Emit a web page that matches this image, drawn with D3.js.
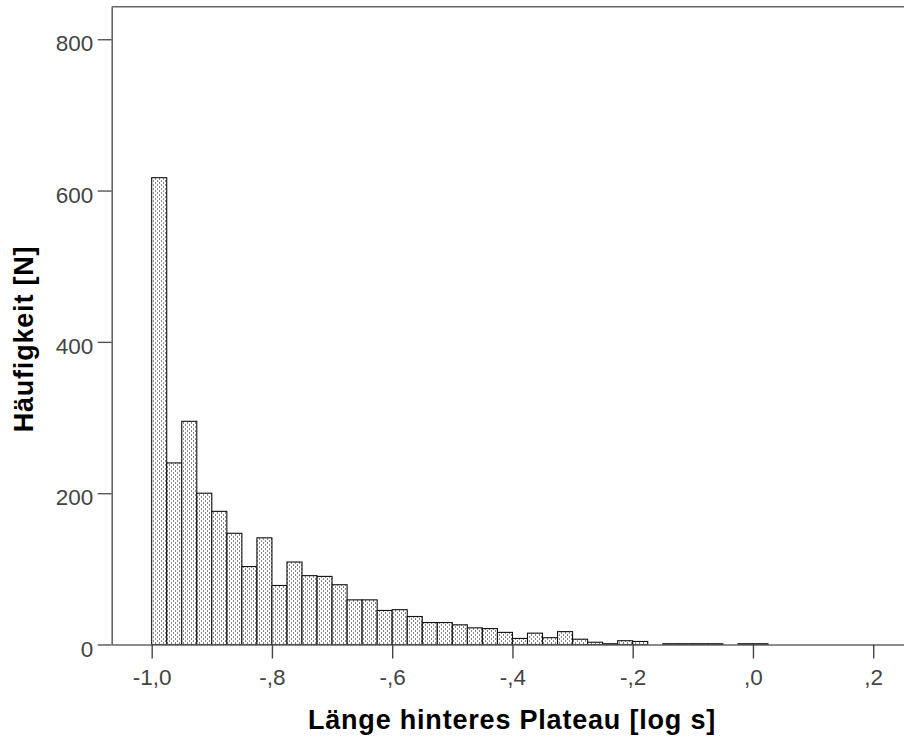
<!DOCTYPE html>
<html>
<head>
<meta charset="utf-8">
<script src="https://cdn.jsdelivr.net/npm/d3@7/dist/d3.min.js"></script>
<style>
  html, body { margin: 0; padding: 0; background: #fff; }
  svg { display: block; }
</style>
</head>
<body>
<svg id="chart" width="904" height="737"></svg>
<script>
// ---- data ----
const binStart = -1.0;
const binWidth = 0.025;
const counts = [617, 240, 295, 200, 176, 147, 103, 141, 78, 109,
                91, 90, 79, 59, 59, 45, 46, 37, 29, 29,
                26, 22, 21, 16, 8, 15, 9, 17, 7, 3,
                1, 5, 4, 0, 1, 1, 1, 1, 0, 1, 1];
const xTickValues = [-1.0, -0.8, -0.6, -0.4, -0.2, 0.0, 0.2];
const xTickLabels = ["-1,0", "-,8", "-,6", "-,4", "-,2", ",0", ",2"];
const yTickValues = [0, 200, 400, 600, 800];
const yTickLabels = ["0", "200", "400", "600", "800"];
const xTitle = "Länge hinteres Plateau [log s]";
const yTitle = "Häufigkeit [N]";

// ---- layout ----
const svg = d3.select("#chart");
const pLeft = 111.7, pRight = 912, pTop = 6.7, pBottom = 644.5;

const x = d3.scaleLinear().domain([-1.0665, 0.2645]).range([pLeft, pRight]);
const y = d3.scaleLinear().domain([0, 843]).range([pBottom, pTop]);

const defs = svg.append("defs");
const pat = defs.append("pattern")
  .attr("id", "dots").attr("patternUnits", "userSpaceOnUse")
  .attr("width", 4).attr("height", 4);
pat.append("rect").attr("width", 4).attr("height", 4).attr("fill", "#fff");
pat.append("rect").attr("x", 1).attr("y", 0).attr("width", 1).attr("height", 2).attr("fill", "#888");
pat.append("rect").attr("x", 3).attr("y", 2).attr("width", 1).attr("height", 2).attr("fill", "#888");

const bins = counts.map((c, i) => ({ x0: binStart + i * binWidth, x1: binStart + (i + 1) * binWidth, c }));

// frame line (top)
svg.append("line")
  .attr("x1", pLeft).attr("x2", pRight).attr("y1", pTop).attr("y2", pTop)
  .attr("stroke", "#666").attr("stroke-width", 1.6);

// bars
svg.append("g").selectAll("rect")
  .data(bins.filter(d => d.c > 0))
  .join("rect")
  .attr("x", d => x(d.x0))
  .attr("width", d => x(d.x1) - x(d.x0))
  .attr("y", d => y(d.c))
  .attr("height", d => y(0) - y(d.c))
  .attr("fill", "url(#dots)")
  .attr("stroke", "#111")
  .attr("stroke-width", 1.1);

// axes
const fontTick = "'Liberation Sans', Arial, sans-serif";

const xAxis = d3.axisBottom(x)
  .tickValues(xTickValues)
  .tickFormat((d, i) => xTickLabels[i])
  .tickSize(14).tickSizeOuter(0).tickPadding(10);
const gx = svg.append("g").attr("transform", `translate(0,${pBottom})`).call(xAxis);
gx.select(".domain").attr("stroke", "#666").attr("stroke-width", 1.6);
gx.selectAll(".tick line").attr("stroke", "#444").attr("stroke-width", 1.4);
gx.selectAll(".tick text")
  .attr("font-family", fontTick).attr("font-size", 22.5).attr("fill", "#444")
  .attr("dy", null).attr("y", 40.5);

const yAxis = d3.axisLeft(y)
  .tickValues(yTickValues)
  .tickFormat((d, i) => yTickLabels[i])
  .tickSize(14).tickSizeOuter(0).tickPadding(4);
const gy = svg.append("g").attr("transform", `translate(${pLeft},0)`).call(yAxis);
gy.select(".domain").attr("stroke", "#666").attr("stroke-width", 1.6);
gy.selectAll(".tick line").attr("stroke", "#555").attr("stroke-width", 1.4);
gy.selectAll(".tick text")
  .attr("font-family", fontTick).attr("font-size", 22.5).attr("fill", "#444")
  .attr("dy", null).attr("y", 11.5).attr("x", -18.5);

// titles
svg.append("text")
  .attr("x", 512).attr("y", 729)
  .attr("text-anchor", "middle")
  .attr("font-family", fontTick).attr("font-weight", "bold")
  .attr("font-size", 27).attr("letter-spacing", 0.8).attr("fill", "#000")
  .text(xTitle);

svg.append("text")
  .attr("transform", "translate(33.3,339) rotate(-90)")
  .attr("text-anchor", "middle")
  .attr("font-family", fontTick).attr("font-weight", "bold")
  .attr("font-size", 27).attr("letter-spacing", 0.8).attr("fill", "#000")
  .text(yTitle);
</script>
</body>
</html>
